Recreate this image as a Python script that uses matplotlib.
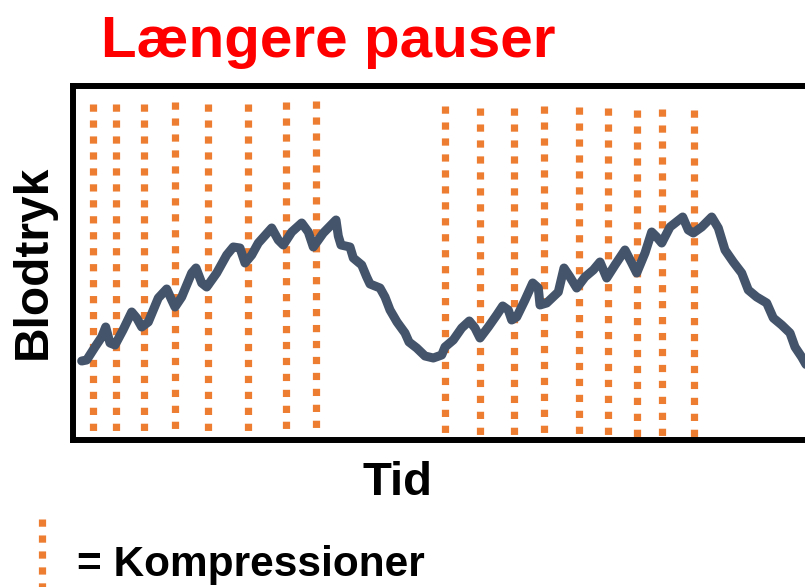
import matplotlib
matplotlib.use("Agg")
import matplotlib.pyplot as plt
from matplotlib.lines import Line2D

plt.rcParams['font.family'] = ['Liberation Sans', 'DejaVu Sans']

# blodtryk over tid (vilkaarlige enheder aflaest fra billedet)
tid = [8.7, 13.7, 22, 28.7, 32.7, 37, 42, 50, 58.7, 63.7, 68.7, 75.3, 85.3, 93.7,
       98.7, 102, 108.7, 118.7, 123, 128.7, 133.7, 143.7, 153.7, 160.3, 167, 172,
       178.7, 185.3, 198.7, 205.3, 210.3, 218.7, 228.7, 235.3, 240.3, 250.3, 263,
       265.3, 268, 277, 280.3, 288.7, 293.7, 297, 307, 312, 317, 324, 332, 336,
       343.7, 352, 360.3, 368.7, 372, 380.3, 388.7, 396.3, 402, 407, 415.3, 423.7,
       429.7, 435.3, 438.7, 443.7, 452, 459.7, 465.3, 467, 473.7, 485.3, 491, 497,
       503.7, 512, 520.3, 527, 533.7, 542, 552, 558.7, 563.7, 572, 578.7, 583.7,
       588.7, 597, 609.7, 615.3, 620.3, 628.7, 638.7, 645.3, 652, 660.3, 668.7,
       675.3, 683.7, 693.7, 700.3, 708.7, 717, 722, 728.7, 735]
blodtryk = [79, 80, 93, 103, 113, 97, 95, 110, 128, 122, 113, 118, 142, 151,
            140, 133, 143, 167, 172, 157, 153, 167, 185, 193, 192, 177,
            185, 197, 212, 200, 195, 208, 217, 208, 193, 207, 220,
            204, 195, 193, 182, 175, 163, 156, 152, 143, 130, 118, 107, 98,
            92, 84, 82, 85, 93, 100, 112, 119, 112, 102, 113, 125,
            134, 130, 120, 123, 140, 157, 152, 135, 137, 148, 172, 163,
            152, 163, 170, 178, 162, 175, 190, 177, 167, 187, 208, 203,
            197, 213, 223, 210, 207, 213, 223, 212, 190, 178, 167,
            150, 143, 137, 122, 115, 107, 93, 83, 72]

# kompressioner: tidspunkt og lodret udstraekning
komp_tid = [20.3, 43, 71, 102.3, 134.7, 175, 212.7, 242.7,
            372, 407.3, 440.7, 470.7, 506, 535, 564, 589, 621]
komp_top = [336.2, 336.2, 336.2, 337.8, 336.2, 336.2, 337.8, 338.8,
            334.2, 331.8, 331.8, 334.2, 333.2, 331.8, 329.8, 330.8, 329.8]
komp_bund = [9.2, 9.2, 9.2, 11.5, 9.2, 9.2, 11.5, 11.5,
             7.2, 5.2, 5.2, 7.2, 6.5, 5.2, 3.2, 4.2, 3.2]

orange = '#ED7D31'
graa = '#44546A'
prik = [1.0, 1.21]

fig = plt.figure(figsize=(8.05, 5.87), dpi=100)
ax = fig.add_axes([73 / 805, 147 / 587, 747 / 805, 354 / 587])

for t, top, bund in zip(komp_tid, komp_top, komp_bund):
    ax.plot([t, t], [top, bund], color=orange, lw=5.2, dashes=prik,
            dash_capstyle='butt', zorder=1)

ax.plot(tid, blodtryk, color=graa, lw=6.5, solid_capstyle='round',
        solid_joinstyle='round', zorder=2)

ax.set_xlim(0, 747)
ax.set_ylim(0, 354)
ax.set_xticks([])
ax.set_yticks([])
for s in ['left', 'top', 'bottom']:
    ax.spines[s].set_linewidth(4.3)
    ax.spines[s].set_color('black')
ax.spines['right'].set_visible(False)

fig.text(328 / 805, 1 - 57 / 587, 'Længere pauser', color='#FF0000',
         fontsize=42, fontweight='bold', ha='center', va='baseline')
fig.text(397 / 805, 1 - 495 / 587, 'Tid', fontsize=34, fontweight='bold',
         ha='center', va='baseline')
fig.text(33 / 805, 1 - 262 / 587, 'Blodtryk', fontsize=34.5, fontweight='bold',
         ha='center', va='center', rotation=90)

# forklaring
fig.add_artist(Line2D([42 / 805, 42 / 805], [1 - 519 / 587, -0.05],
                      transform=fig.transFigure, color=orange, lw=5.2,
                      dashes=prik, dash_capstyle='butt'))
fig.text(77 / 805, 1 - 576 / 587, '= Kompressioner', fontsize=30.5,
         fontweight='bold', ha='left', va='baseline')

fig.savefig('out.png', dpi=100)
